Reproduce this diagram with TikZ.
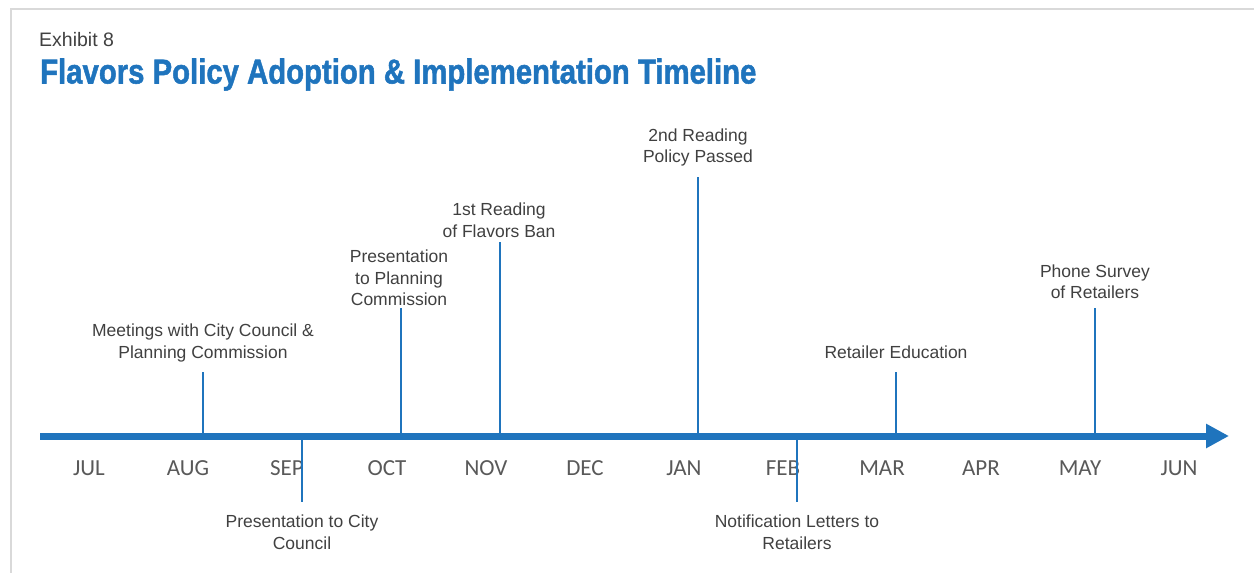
\documentclass[tikz,border=0pt]{standalone}
\usepackage{fontspec}
\usepackage{graphicx}
\usetikzlibrary{arrows.meta}
\setmainfont{Liberation Sans}
\newfontfamily\monthfont{Carlito}
\newfontfamily\titlefont{Liberation Sans Bold}[FakeBold=1.6]
\definecolor{tlblue}{HTML}{1F74BD}
\definecolor{txtgray}{HTML}{404040}
\definecolor{monthgray}{HTML}{595959}
\definecolor{framegray}{HTML}{D9D9D9}
\tikzset{
  lbl/.style={inner sep=0pt, align=center, text=txtgray, font=\fontsize{17.5}{21.5}\selectfont},
  month/.style={inner sep=0pt, text=monthgray, font=\monthfont\fontsize{23}{26}\selectfont},
  tickline/.style={draw=tlblue, line width=2},
  axisline/.style={draw=tlblue, line width=7, -{Triangle[length=23,width=23]}},
  frameline/.style={draw=framegray, line width=2.5}
}
\begin{document}
\begin{tikzpicture}[x=1pt,y=-1pt]
\useasboundingbox (0,0) rectangle (1254,573);
% frame
\coordinate (fb) at (11,573);
\coordinate (fc) at (11,9);
\coordinate (fr) at (1254,9);
\draw[frameline] (fb) -- (fc) -- (fr);
% titles
\node[inner sep=0pt, anchor=base west, text=txtgray, font=\fontsize{19.5}{22}\selectfont] (exh) at (39,46) {Exhibit 8};
\node[inner sep=0pt, anchor=base west, text=tlblue] (title) at (40,83.5) {\resizebox{716pt}{25pt}{\titlefont Flavors Policy Adoption \& Implementation Timeline}};
% axis
\coordinate (ax0) at (40,436);
\coordinate (ax1) at (1229,436);
\draw[axisline] (ax0) -- (ax1);
% months
\node[month] (jul) at (89,468) {JUL};
\node[month] (aug) at (188,468) {AUG};
\node[month] (sep) at (287,468) {SEP};
\node[month] (oct) at (387,468) {OCT};
\node[month] (nov) at (486,468) {NOV};
\node[month] (dec) at (585,468) {DEC};
\node[month] (jan) at (684,468) {JAN};
\node[month] (feb) at (783,468) {FEB};
\node[month] (mar) at (882,468) {MAR};
\node[month] (apr) at (981,468) {APR};
\node[month] (may) at (1080,468) {MAY};
\node[month] (jun) at (1179,468) {JUN};
% events
\coordinate (e1a) at (203,436); \coordinate (e1b) at (203,372);
\coordinate (e2a) at (302,436); \coordinate (e2b) at (302,502);
\coordinate (e3a) at (401,436); \coordinate (e3b) at (401,308);
\coordinate (e4a) at (500,436); \coordinate (e4b) at (500,242);
\coordinate (e5a) at (698,436); \coordinate (e5b) at (698,177);
\coordinate (e6a) at (797,436); \coordinate (e6b) at (797,502);
\coordinate (e7a) at (896,436); \coordinate (e7b) at (896,372);
\coordinate (e8a) at (1095,436); \coordinate (e8b) at (1095,308);
\foreach \i in {1,...,8} {\draw[tickline] (e\i a) -- (e\i b);}
\node[lbl] (l1) at (203,343) {Meetings with City Council \&\\Planning Commission};
\node[lbl] (l2) at (302,532) {Presentation to City\\Council};
\node[lbl] (l3) at (399,278) {Presentation\\to Planning\\Commission};
\node[lbl] (l4) at (499,220) {1st Reading\\of Flavors Ban};
\node[lbl] (l5) at (698,147.5) {2nd Reading\\Policy Passed};
\node[lbl] (l6) at (797,532) {Notification Letters to\\Retailers};
\node[lbl] (l7) at (896,352) {Retailer Education};
\node[lbl] (l8) at (1095,281.5) {Phone Survey\\of Retailers};
\end{tikzpicture}
\end{document}
